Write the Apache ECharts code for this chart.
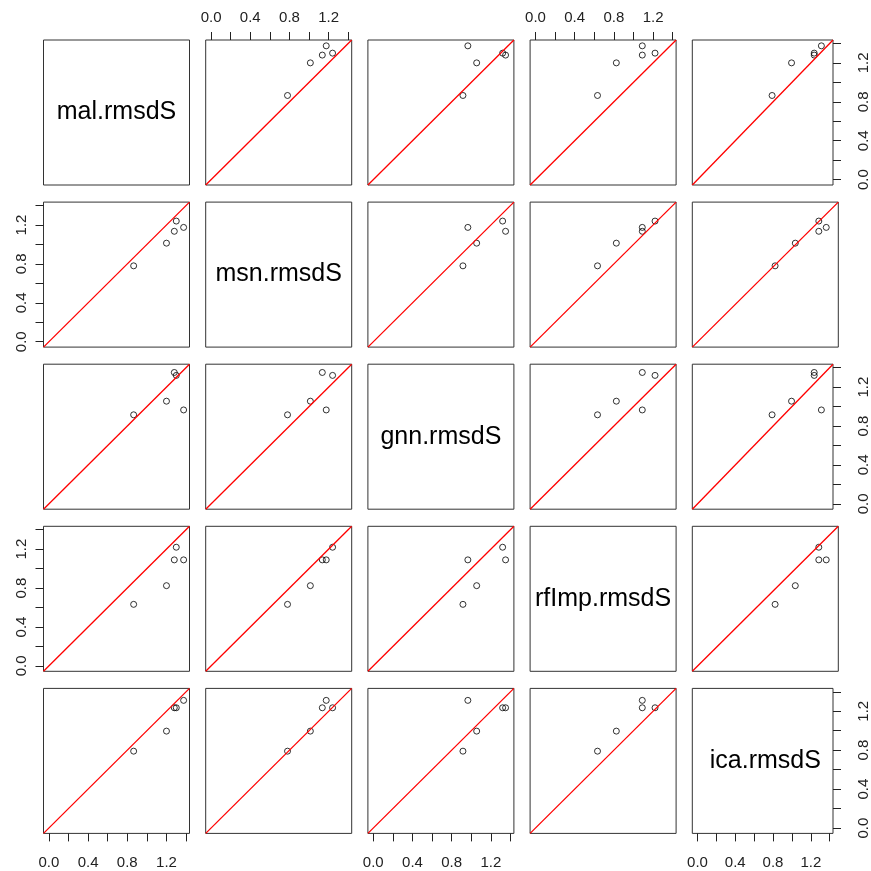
<!DOCTYPE html>
<html>
<head>
<meta charset="utf-8">
<script src="https://cdn.jsdelivr.net/npm/echarts@6/dist/echarts.min.js"></script>
<style>
  html, body { margin: 0; padding: 0; background: #fff; }
  #chart { width: 871px; height: 871px; }
</style>
</head>
<body>
<div id="chart"></div>
<script>
// variable names on the diagonal
const varNames = ['mal.rmsdS', 'msn.rmsdS', 'gnn.rmsdS', 'rfImp.rmsdS', 'ica.rmsdS'];

// one value per case, same order in every array
const mal   = [1.375, 1.30, 1.28, 1.20, 0.865];
const msn   = [1.175, 1.24, 1.135, 1.013, 0.78];
const gnn   = [0.965, 1.32, 1.35, 1.055, 0.915];
const rfImp = [1.09, 1.22, 1.09, 0.825, 0.633];
const ica   = [1.312, 1.236, 1.236, 0.996, 0.79];

const tickValues = [0, 0.2, 0.4, 0.6, 0.8, 1.0, 1.2, 1.4];
const labelValues = [0, 0.4, 0.8, 1.2];
const axisMin = -0.055;
const axisMax = 1.435;

window.addEventListener('DOMContentLoaded', () => {
  const cols = [mal, msn, gnn, rfImp, ica];
  const n = cols.length;
  const chart = echarts.init(document.getElementById('chart'));

  const panelW = 146, panelH = 145;
  const left0 = 43.5, top0 = 40, stepX = 162.2, stepY = 162.1;
  const font = 'Liberation Sans, Arial, sans-serif';
  const red = '#ff0000';

  const grid = [], xAxis = [], yAxis = [], series = [], graphic = [];

  for (let i = 0; i < n; i++) {      // row -> y variable
    for (let j = 0; j < n; j++) {    // column -> x variable
      const k = i * n + j;
      const left = left0 + stepX * j;
      const top = top0 + stepY * i;
      grid.push({
        left: left, top: top, width: panelW, height: panelH,
        show: true, borderColor: '#333', borderWidth: 1, backgroundColor: '#fff'
      });

      const showX = (i === 0 && j % 2 === 1) || (i === n - 1 && j % 2 === 0);
      const showY = (j === 0 && i % 2 === 1) || (j === n - 1 && i % 2 === 0);
      const xPos = i === 0 ? 'top' : 'bottom';
      const yPos = j === 0 ? 'left' : 'right';

      xAxis.push({
        type: 'value', gridIndex: k, min: axisMin, max: axisMax, position: xPos,
        axisLine: { show: false, onZero: false },
        splitLine: { show: false },
        axisTick: { show: showX, inside: false, length: 8, customValues: tickValues, lineStyle: { color: '#222' } },
        axisLabel: {
          show: showX, customValues: labelValues, margin: xPos === 'top' ? 15 : 22,
          fontSize: 15, fontFamily: font, color: '#222',
          formatter: v => v.toFixed(1)
        }
      });
      yAxis.push({
        type: 'value', gridIndex: k, min: axisMin, max: axisMax, position: yPos,
        axisLine: { show: false, onZero: false },
        splitLine: { show: false },
        axisTick: { show: showY, inside: false, length: 8, customValues: tickValues, lineStyle: { color: '#222' } },
        axisLabel: {
          show: showY, customValues: labelValues, rotate: 90, margin: yPos === 'left' ? 14 : 23,
          fontSize: 15, fontFamily: font, color: '#222',
          formatter: v => v.toFixed(1)
        }
      });

      if (i === j) {
        graphic.push({
          type: 'text',
          x: left + panelW / 2, y: top + panelH / 2,
          style: {
            text: varNames[i], font: '25px ' + font, fill: '#000',
            textAlign: 'center', textVerticalAlign: 'middle',
            align: 'center', verticalAlign: 'middle'
          }
        });
        continue;
      }

      const pts = cols[j].map((x, idx) => [x, cols[i][idx]]);
      series.push({
        type: 'scatter', xAxisIndex: k, yAxisIndex: k,
        data: pts, symbol: 'circle', symbolSize: 6, clip: false,
        itemStyle: { color: 'rgba(0,0,0,0)', borderColor: '#000', borderWidth: 1 },
        silent: true,
        // abline(0, 1)
        markLine: {
          silent: true, symbol: ['none', 'none'], animation: false,
          label: { show: false },
          lineStyle: { color: red, width: 1.3, type: 'solid' },
          emphasis: { disabled: true },
          data: [[{ coord: [axisMin, axisMin] }, { coord: [axisMax, axisMax] }]]
        }
      });
    }
  }

  chart.setOption({
    animation: false,
    backgroundColor: '#fff',
    grid: grid,
    xAxis: xAxis,
    yAxis: yAxis,
    series: series,
    graphic: graphic
  });
});
</script>
</body>
</html>
